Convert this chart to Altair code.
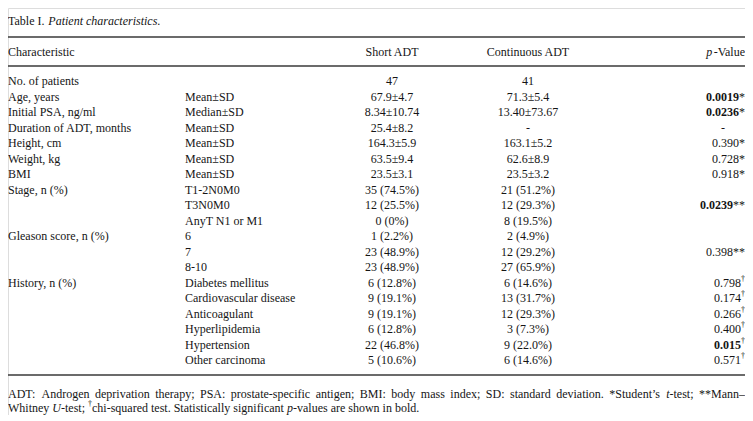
import re
import altair as alt
import pandas as pd

# ---------------- data ----------------
title_plain = "Table I. "
title_italic = "Patient characteristics"
header_characteristic = "Characteristic"
header_short = "Short ADT"
header_cont = "Continuous ADT"
header_p_italic = "p"
header_p_rest = "-Value"

characteristic = ["No. of patients", "Age, years", "Initial PSA, ng/ml", "Duration of ADT, months",
                  "Height, cm", "Weight, kg", "BMI", "Stage, n (%)", "", "",
                  "Gleason score, n (%)", "", "", "History, n (%)", "", "", "", "", ""]
measure = ["", "Mean±SD", "Median±SD", "Mean±SD", "Mean±SD", "Mean±SD", "Mean±SD",
           "T1-2N0M0", "T3N0M0", "AnyT N1 or M1", "6", "7", "8-10",
           "Diabetes mellitus", "Cardiovascular disease", "Anticoagulant", "Hyperlipidemia",
           "Hypertension", "Other carcinoma"]
short_adt = ["47", "67.9±4.7", "8.34±10.74", "25.4±8.2", "164.3±5.9", "63.5±9.4", "23.5±3.1",
             "35 (74.5%)", "12 (25.5%)", "0 (0%)", "1 (2.2%)", "23 (48.9%)", "23 (48.9%)",
             "6 (12.8%)", "9 (19.1%)", "9 (19.1%)", "6 (12.8%)", "22 (46.8%)", "5 (10.6%)"]
continuous_adt = ["41", "71.3±5.4", "13.40±73.67", "-", "163.1±5.2", "62.6±8.9", "23.5±3.2",
                  "21 (51.2%)", "12 (29.3%)", "8 (19.5%)", "2 (4.9%)", "12 (29.2%)", "27 (65.9%)",
                  "6 (14.6%)", "13 (31.7%)", "12 (29.3%)", "3 (7.3%)", "9 (22.0%)", "6 (14.6%)"]
p_value = ["", "0.0019", "0.0236", "-", "0.390", "0.728", "0.918", "", "0.0239", "",
           "", "0.398", "", "0.798", "0.174", "0.266", "0.400", "0.015", "0.571"]
p_test = ["", "*", "*", "", "*", "*", "*", "", "**", "",
          "", "**", "", "†", "†", "†", "†", "†", "†"]
p_bold = [False, True, True, False, False, False, False, False, True, False,
          False, False, False, False, False, False, False, True, False]

footnote_1 = [("ADT: Androgen deprivation therapy; PSA: prostate-specific antigen; BMI: body mass index; "
               "SD: standard deviation. *Student’s ", "n"), ("t", "i"), ("-test; **Mann–", "n")]
footnote_2 = [("Whitney ", "n"), ("U", "i"), ("-test; ", "n"), ("†", "sup"),
              ("chi-squared test. Statistically significant ", "n"), ("p", "i"),
              ("-values are shown in bold.", "n")]

# ---------------- layout ----------------
FONT = "Liberation Serif"
FS = 12
SUP_FS = 8
TEXT_COLOR = "#151515"
RULE_COLOR = "#3a3a3a"

LEFT, RIGHT = 8, 745
TOP, BOTTOM = 8, 415
COL_MEASURE = 185
COL_SHORT = 392
COL_CONT = 528
COL_P_CENTER = 723

Y_TITLE = 21
Y_RULE1 = 37
Y_HEADER = 52
Y_RULE2 = 66
Y_ROW0 = 81
ROW_STEP = 15.5
Y_FOOT1 = 394
Y_FOOT2 = 408

# Times / Liberation Serif advance widths (1/1000 em)
W_REG = {' ': 250, '!': 333, '%': 833, "'": 180, '(': 333, ')': 333, '*': 500, '+': 564,
         ',': 250, '-': 333, '.': 250, '/': 278, ':': 278, ';': 278, '±': 549, '–': 500,
         '†': 500, '’': 333,
         'A': 722, 'B': 667, 'C': 667, 'D': 722, 'E': 611, 'F': 556, 'G': 722, 'H': 722,
         'I': 333, 'J': 389, 'K': 722, 'L': 611, 'M': 889, 'N': 722, 'O': 722, 'P': 556,
         'Q': 722, 'R': 667, 'S': 556, 'T': 611, 'U': 722, 'V': 722, 'W': 944, 'X': 722,
         'Y': 722, 'Z': 611,
         'a': 444, 'b': 500, 'c': 444, 'd': 500, 'e': 444, 'f': 333, 'g': 500, 'h': 500,
         'i': 278, 'j': 278, 'k': 500, 'l': 278, 'm': 778, 'n': 500, 'o': 500, 'p': 500,
         'q': 500, 'r': 333, 's': 389, 't': 278, 'u': 500, 'v': 500, 'w': 722, 'x': 500,
         'y': 500, 'z': 444}
for d in "0123456789":
    W_REG[d] = 500
W_IT = dict(W_REG)
W_IT.update({'a': 500, 'c': 444, 'e': 444, 'f': 278, 'h': 500, 'i': 278, 'k': 444, 'm': 722,
             'n': 500, 'p': 500, 'r': 389, 's': 389, 't': 278, 'v': 444, 'w': 667, 'x': 444,
             'y': 444, 'z': 389, 'P': 611, 'U': 722})


def twidth(s, kind):
    table = W_IT if kind == "i" else W_REG
    size = SUP_FS if kind == "sup" else FS
    return sum(table.get(c, 500) for c in s) * size / 1000.0


records = []


def add(text, kind, x, y, align):
    if text == "":
        return
    records.append(dict(text=text, kind=kind, x=x, y=y, align=align))


def add_runs(runs, x0, y, target=None):
    if target is None:
        x = x0
        for text, kind in runs:
            add(text, kind, x, y, "left")
            x += twidth(text, kind)
        return
    pieces = []
    for text, kind in runs:
        for p in re.split(r"( )", text):
            if p:
                pieces.append((p, kind))
    widths = [twidth(p, k) for p, k in pieces]
    nsp = sum(1 for p, _ in pieces if p == " ")
    extra = (target - x0 - sum(widths)) / nsp if nsp else 0
    x = x0
    for (p, k), w in zip(pieces, widths):
        if p == " ":
            x += w + extra
        else:
            add(p, k, x, y, "left")
            x += w


# title
add_runs([(title_plain, "n"), (title_italic, "i"), (".", "n")], LEFT, Y_TITLE)
# header
add(header_characteristic, "n", LEFT, Y_HEADER, "left")
add(header_short, "n", COL_SHORT, Y_HEADER, "center")
add(header_cont, "n", COL_CONT, Y_HEADER, "center")
add(header_p_rest, "n", RIGHT, Y_HEADER, "right")
add(header_p_italic, "i", RIGHT - twidth(header_p_rest, "n"), Y_HEADER, "right")

# body
for i in range(len(measure)):
    y = Y_ROW0 + i * ROW_STEP
    add(characteristic[i], "n", LEFT, y, "left")
    add(measure[i], "n", COL_MEASURE, y, "left")
    add(short_adt[i], "n", COL_SHORT, y, "center")
    add(continuous_adt[i], "n", COL_CONT, y, "center")
    if p_value[i] == "-":
        add(p_value[i], "n", COL_P_CENTER, y, "center")
    elif p_value[i]:
        suf = p_test[i]
        suf_kind = "sup" if suf == "†" else "n"
        add(suf, suf_kind, RIGHT, y, "right")
        add(p_value[i], "b" if p_bold[i] else "n", RIGHT - twidth(suf, suf_kind), y, "right")

Y_RULE3 = Y_ROW0 + (len(measure) - 1) * ROW_STEP + 15

# footnote
add_runs(footnote_1, LEFT, Y_FOOT1, target=RIGHT)
add_runs(footnote_2, LEFT, Y_FOOT2)

df = pd.DataFrame(records)
rules = pd.DataFrame({"x": [LEFT] * 3, "x2": [RIGHT] * 3, "y": [Y_RULE1, Y_RULE2, Y_RULE3]})

xs = alt.Scale(domain=[LEFT, RIGHT], nice=False, zero=False)
ys = alt.Scale(domain=[TOP, BOTTOM], nice=False, zero=False, reverse=True)

STYLE = {
    "n": dict(fontSize=FS),
    "i": dict(fontSize=FS, fontStyle="italic"),
    "b": dict(fontSize=FS, fontWeight="bold"),
    "sup": dict(fontSize=SUP_FS, dy=-4),
}

layers = [
    alt.Chart(rules).mark_rule(color=RULE_COLOR, strokeWidth=1.3).encode(
        x=alt.X("x:Q", scale=xs, axis=None),
        x2="x2:Q",
        y=alt.Y("y:Q", scale=ys, axis=None),
    )
]
for (kind, align), sub in df.groupby(["kind", "align"]):
    layers.append(
        alt.Chart(sub).mark_text(font=FONT, color=TEXT_COLOR, align=align, baseline="middle",
                                 **STYLE[kind]).encode(
            x=alt.X("x:Q", scale=xs, axis=None),
            y=alt.Y("y:Q", scale=ys, axis=None),
            text="text:N",
        )
    )

chart = alt.layer(*layers).properties(
    width=RIGHT - LEFT, height=BOTTOM - TOP, autosize=alt.AutoSizeParams(type="none"), padding=0
).configure_view(stroke=None).configure(background="white")

chart.save("out.html", embed_options={"renderer": "svg", "actions": False})
